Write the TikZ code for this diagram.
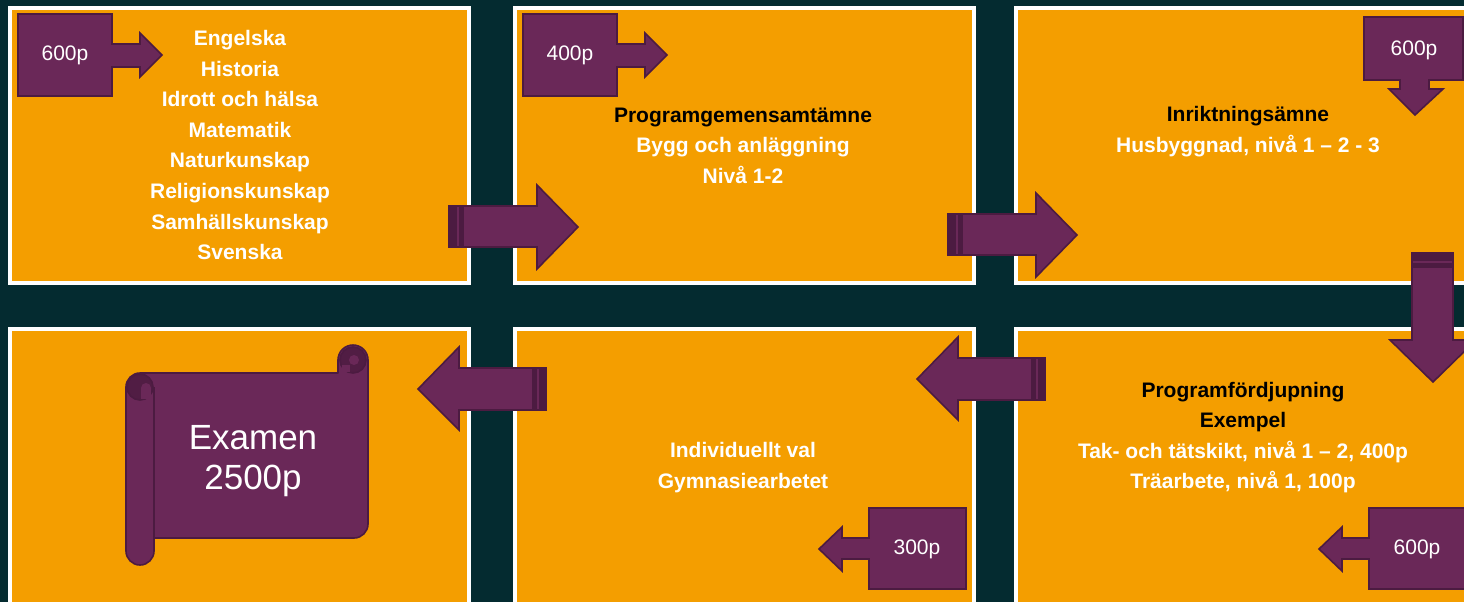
\documentclass[tikz,border=0pt]{standalone}
\usepackage{fontspec}
\setmainfont{Liberation Sans}
\usetikzlibrary{positioning}
\definecolor{bgteal}{HTML}{042B30}
\definecolor{panelorange}{HTML}{F49E00}
\definecolor{plum}{HTML}{6A2858}
\definecolor{plumdark}{HTML}{4C1B41}
\tikzset{
  panel/.style    = {draw=white, line width=2pt, fill=panelorange, inner sep=0pt,
                     outer sep=0pt, minimum width=229.5pt, minimum height=137.5pt},
  subj/.style     = {font=\fontsize{10.5}{15.3}\selectfont\bfseries, align=center,
                     text=white, inner sep=0pt},
  pts/.style      = {font=\fontsize{10.5}{12}\selectfont, text=white, inner sep=0pt},
  big/.style      = {font=\fontsize{17.5}{20.3}\selectfont, align=center, text=white, inner sep=0pt},
  blockarr/.style = {fill=plum, draw=plumdark, line width=0.8pt, line join=miter},
  band/.style     = {fill=plumdark},
  bandline/.style = {draw=plum, line width=0.6pt},
  curl/.style     = {fill=plumdark!85!plum, draw=plumdark, line width=0.8pt},
}

\begin{document}
\begin{tikzpicture}[x=0.5pt, y=-0.5pt]
  \useasboundingbox[fill=bgteal] (0,0) rectangle (1464,602);

  % panels
  \node[panel] (p1) at (239.5,145.5) {};
  \node[panel, right=23pt of p1] (p2) {};
  \node[panel, right=21pt of p2] (p3) {};
  \node[panel, below=23pt of p1] (p4) {};
  \node[panel, below=23pt of p2] (p5) {};
  \node[panel, below=23pt of p3] (p6) {};

  % texts in the panels
  \node[subj] (t1) at (240,145) {Engelska\\Historia\\Idrott och hälsa\\Matematik\\Naturkunskap\\Religionskunskap\\Samhällskunskap\\Svenska};
  \node[subj] (t2) at (743,145.5) {\textcolor{black}{Programgemensamtämne}\\Bygg och anläggning\\Nivå 1-2};
  \node[subj] (t3) at (1248,131.5) {\textcolor{black}{Inriktningsämne}\\Husbyggnad, nivå 1 – 2 - 3};
  \node[subj] (t5) at (743,467.5) {Individuellt val\\Gymnasiearbetet};
  \node[subj] (t6) at (1243,437.5) {\textcolor{black}{Programfördjupning}\\\textcolor{black}{Exempel}\\Tak- och tätskikt, nivå 1 – 2, 400p\\Träarbete, nivå 1, 100p};

  % arrows between panels
  \draw[blockarr] (449,206) -- (537,206) -- (537,185) -- (578,227) -- (537,269) -- (537,247) -- (449,247) -- cycle;
  \fill[band] (449,206) rectangle (464,247);
  \draw[bandline] (458,207) -- (458,246);

  \draw[blockarr] (948,214) -- (1036,214) -- (1036,193) -- (1077,235) -- (1036,277) -- (1036,255) -- (948,255) -- cycle;
  \fill[band] (948,214) rectangle (963,255);
  \draw[bandline] (957,215) -- (957,254);

  \draw[blockarr] (1412,253) -- (1453,253) -- (1453,340) -- (1476,340) -- (1433,382) -- (1390,340) -- (1412,340) -- cycle;
  \fill[band] (1412,253) rectangle (1453,268);
  \draw[bandline] (1413,262) -- (1452,262);

  \draw[blockarr] (1045,358) -- (958,358) -- (958,337) -- (917,379) -- (958,420) -- (958,400) -- (1045,400) -- cycle;
  \fill[band] (1031,358) rectangle (1045,400);
  \draw[bandline] (1037,359) -- (1037,399);

  \draw[blockarr] (546,368) -- (459,368) -- (459,347) -- (418,389) -- (459,430) -- (459,410) -- (546,410) -- cycle;
  \fill[band] (532,368) rectangle (546,410);
  \draw[bandline] (538,369) -- (538,409);

  % point callouts
  \draw[blockarr] (18,14) -- (112,14) -- (112,44) -- (140,44) -- (140,33) -- (162,55) -- (140,77) -- (140,67) -- (112,67) -- (112,96) -- (18,96) -- cycle;
  \node[pts] (c1) at (65,55) {600p};

  \draw[blockarr] (523,14) -- (617,14) -- (617,44) -- (645,44) -- (645,33) -- (667,55) -- (645,77) -- (645,67) -- (617,67) -- (617,96) -- (523,96) -- cycle;
  \node[pts] (c2) at (570,55) {400p};

  \draw[blockarr] (1364,17) -- (1463,17) -- (1463,80) -- (1429,80) -- (1429,89) -- (1443,89) -- (1415,115) -- (1389,89) -- (1400,89) -- (1400,80) -- (1364,80) -- cycle;
  \node[pts] (c3) at (1414,50) {600p};

  \draw[blockarr] (966,508) -- (869,508) -- (869,538) -- (842,538) -- (842,527) -- (819,549) -- (842,571) -- (842,559) -- (869,559) -- (869,589) -- (966,589) -- cycle;
  \node[pts] (c5) at (917,549) {300p};

  \draw[blockarr] (1466,508) -- (1369,508) -- (1369,538) -- (1342,538) -- (1342,527) -- (1319,549) -- (1342,571) -- (1342,559) -- (1369,559) -- (1369,589) -- (1466,589) -- cycle;
  \node[pts] (c6) at (1417,549) {600p};

  % scroll
  \draw[blockarr, line join=round] (140,373) -- (338,373) -- (338,360) arc[start angle=180, end angle=360, radius=15]
    -- (368,524) arc[start angle=0, end angle=90, radius=14] -- (154,538) -- (154,551)
    arc[start angle=0, end angle=180, radius=14] -- (126,387) arc[start angle=180, end angle=270, radius=14] -- cycle;
  \draw[curl] (353,360) circle[radius=13];
  \fill[plum] (354,360) circle[radius=5];
  \fill[plum] (342,365) rectangle (350,372);
  \draw[plumdark, line width=0.8pt] (338,373) -- (338,360);
  \draw[curl] (140,387) circle[radius=13];
  \fill[plum] (146,388) circle[radius=5];
  \fill[plum] (141,388) rectangle (151,399);
  \draw[plumdark, line width=0.8pt] (154,387) -- (154,538);
  \node[big] (ex) at (253,461) {Examen\\2500p};
\end{tikzpicture}
\end{document}
